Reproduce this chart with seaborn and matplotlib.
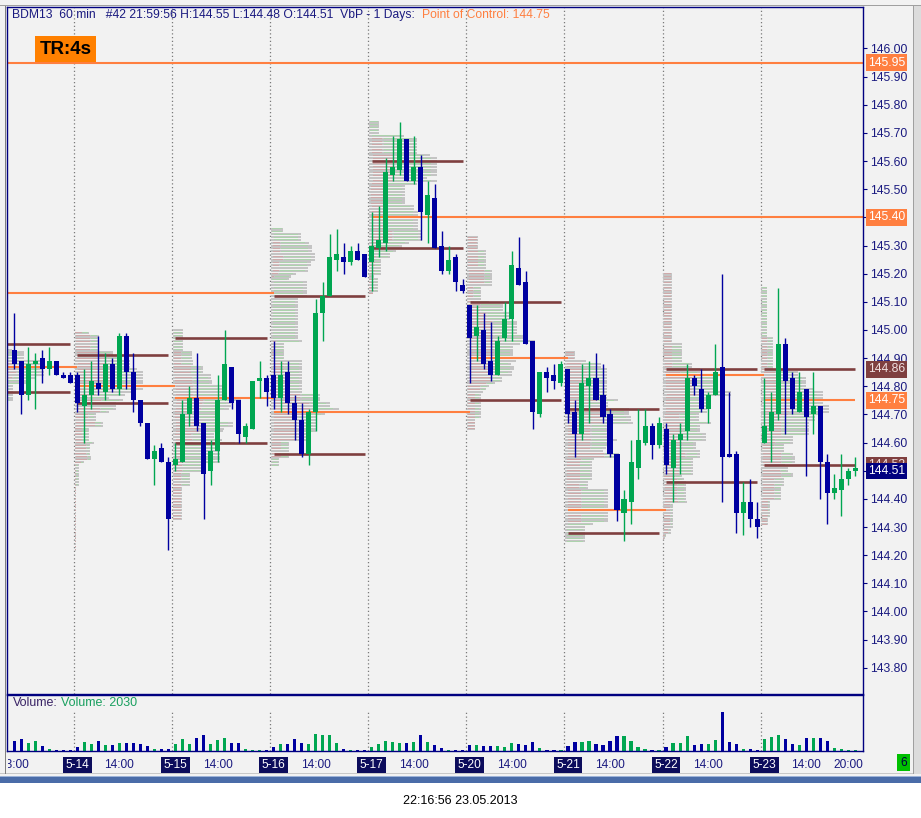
import numpy as np
import pandas as pd
import matplotlib
matplotlib.use('Agg')
import matplotlib.pyplot as plt
import seaborn as sns
from matplotlib.transforms import Bbox, blended_transform_factory
from matplotlib.patches import Rectangle

sns.set_style('white')
plt.rcParams['font.family'] = ['Liberation Sans', 'DejaVu Sans']

# ---------------- data ----------------
day_labels = ['5-13', '5-14', '5-15', '5-16', '5-17', '5-20', '5-21', '5-22', '5-23']
bars_per_day = [9, 14, 14, 14, 14, 14, 14, 14, 14]
first_hour = [13, 8, 8, 8, 8, 8, 8, 8, 8]

opens = [144.93, 144.89, 144.77, 144.88, 144.90, 144.86, 144.89, 144.84, 144.84,
         144.84, 144.73, 144.77, 144.81, 144.78, 144.88, 144.79, 144.98, 144.85, 144.75, 144.67, 144.54, 144.58, 144.53,
         144.52, 144.53, 144.70, 144.76, 144.67, 144.50, 144.57, 144.75, 144.87, 144.75, 144.62, 144.65, 144.82, 144.83,
         144.84, 144.76, 144.85, 144.74, 144.68, 144.56, 144.71, 145.06, 145.12, 145.25, 145.26, 145.24, 145.28, 145.27,
         145.24, 145.29, 145.31, 145.55, 145.57, 145.68, 145.53, 145.58, 145.41, 145.47, 145.30, 145.21, 145.26, 145.16,
         145.09, 144.98, 145.00, 144.89, 144.84, 144.97, 145.04, 145.22, 145.17, 144.96, 144.70, 144.85, 144.84, 144.81,
         144.86, 144.71, 144.63, 144.80, 144.83, 144.77, 144.70, 144.56, 144.35, 144.39, 144.51, 144.60, 144.66, 144.59,
         144.65, 144.51, 144.61, 144.64, 144.83, 144.79, 144.72, 144.77, 144.87, 144.56, 144.56, 144.35, 144.39, 144.33,
         144.60, 144.64, 144.70, 144.95, 144.83, 144.71, 144.79, 144.70, 144.73, 144.53, 144.42, 144.43, 144.47, 144.50]
highs = [145.06, 144.89, 144.94, 144.92, 144.93, 144.94, 144.89, 144.85, 144.85,
         144.85, 144.86, 144.89, 144.98, 144.92, 144.90, 144.99, 144.99, 144.92, 144.75, 144.67, 144.59, 144.60, 144.55,
         144.60, 144.75, 144.80, 144.92, 144.67, 144.61, 144.84, 145.00, 144.87, 144.75, 144.67, 144.82, 144.89, 144.84,
         144.96, 144.89, 144.89, 144.77, 144.74, 144.72, 145.11, 145.17, 145.34, 145.36, 145.31, 145.30, 145.31, 145.27,
         145.42, 145.44, 145.61, 145.69, 145.74, 145.68, 145.69, 145.62, 145.53, 145.52, 145.35, 145.30, 145.27, 145.18,
         145.09, 145.09, 145.06, 145.03, 144.98, 145.10, 145.28, 145.33, 145.21, 144.96, 144.85, 144.87, 144.88, 144.89,
         144.86, 144.75, 144.88, 144.89, 144.92, 144.88, 144.72, 144.56, 144.43, 144.61, 144.72, 144.72, 144.67, 144.69,
         144.67, 144.63, 144.67, 144.88, 144.84, 144.86, 144.78, 144.95, 145.20, 144.78, 144.57, 144.46, 144.47, 144.39,
         144.83, 144.78, 145.15, 144.97, 144.85, 144.85, 144.79, 144.85, 144.73, 144.56, 144.49, 144.56, 144.51, 144.55]
lows = [144.86, 144.70, 144.75, 144.72, 144.81, 144.84, 144.84, 144.83, 144.81,
        144.71, 144.60, 144.72, 144.77, 144.75, 144.78, 144.77, 144.79, 144.71, 144.66, 144.54, 144.45, 144.53, 144.22,
        144.50, 144.53, 144.66, 144.64, 144.33, 144.45, 144.53, 144.75, 144.72, 144.60, 144.60, 144.65, 144.76, 144.73,
        144.72, 144.71, 144.70, 144.61, 144.55, 144.52, 144.64, 144.96, 145.12, 145.21, 145.20, 145.23, 145.25, 145.19,
        145.14, 145.26, 145.28, 145.53, 145.55, 145.53, 145.52, 145.32, 145.31, 145.29, 145.20, 145.20, 145.14, 145.13,
        144.81, 144.89, 144.86, 144.82, 144.84, 144.96, 144.96, 145.16, 144.95, 144.65, 144.69, 144.78, 144.79, 144.80,
        144.67, 144.55, 144.61, 144.67, 144.75, 144.67, 144.55, 144.32, 144.25, 144.31, 144.47, 144.59, 144.54, 144.58,
        144.49, 144.39, 144.49, 144.61, 144.77, 144.71, 144.67, 144.77, 144.39, 144.55, 144.28, 144.27, 144.30, 144.26,
        144.60, 144.53, 144.68, 144.63, 144.70, 144.71, 144.48, 144.63, 144.40, 144.31, 144.40, 144.34, 144.45, 144.48]
closes = [144.88, 144.77, 144.88, 144.89, 144.86, 144.89, 144.84, 144.83, 144.81,
          144.74, 144.77, 144.82, 144.79, 144.88, 144.79, 144.98, 144.85, 144.75, 144.67, 144.54, 144.57, 144.53, 144.33,
          144.54, 144.70, 144.76, 144.66, 144.49, 144.57, 144.75, 144.88, 144.74, 144.63, 144.66, 144.82, 144.83, 144.78,
          144.76, 144.84, 144.74, 144.68, 144.56, 144.71, 145.06, 145.12, 145.26, 145.27, 145.24, 145.28, 145.25, 145.19,
          145.30, 145.32, 145.56, 145.58, 145.68, 145.53, 145.58, 145.42, 145.48, 145.29, 145.21, 145.25, 145.17, 145.14,
          144.97, 145.01, 144.88, 144.84, 144.96, 145.04, 145.23, 145.16, 144.95, 144.71, 144.85, 144.83, 144.82, 144.88,
          144.70, 144.63, 144.81, 144.83, 144.75, 144.69, 144.56, 144.36, 144.40, 144.53, 144.61, 144.66, 144.59, 144.67,
          144.52, 144.61, 144.63, 144.83, 144.80, 144.72, 144.77, 144.85, 144.55, 144.55, 144.35, 144.39, 144.33, 144.30,
          144.66, 144.71, 144.95, 144.82, 144.72, 144.78, 144.69, 144.73, 144.53, 144.42, 144.44, 144.47, 144.50, 144.51]
volumes = [20300, 24400, 16200, 20300, 10200, 4100, 2000, 2000, 2000,
           8100, 18300, 14200, 20300, 12200, 12200, 16200, 16200, 16200, 14200, 10200, 4100, 4100, 4100,
           14200, 24400, 14200, 26400, 32500, 14200, 22300, 26400, 16200, 16200, 4100, 2000, 2000, 2000,
           8100, 14200, 14200, 24400, 16200, 14200, 34500, 32500, 32500, 16200, 4100, 2000, 2000, 2000,
           8100, 14200, 20300, 18300, 16200, 16200, 18300, 32500, 18300, 12200, 6100, 2000, 2000, 2000,
           12200, 12200, 10200, 10200, 10200, 8100, 16200, 14200, 12200, 18300, 6100, 2000, 2000, 2000,
           10200, 18300, 18300, 20300, 14200, 12200, 20300, 30500, 30500, 20300, 8100, 4100, 2000, 2000,
           8100, 16200, 16200, 30500, 12200, 14200, 14200, 22300, 79200, 18300, 14200, 4100, 4100, 2000,
           24400, 28400, 32500, 24400, 14200, 12200, 26400, 26400, 26400, 20300, 6100, 4100, 2000, 2030]

# point-of-control lines (price, first bar, last bar)
poc_price = [145.95, 145.13, 144.87, 144.80, 144.76, 144.71, 145.40, 144.90, 144.36, 144.84, 144.75]
poc_from = [-2, -2, -2, 9, 23, 37, 51, 65, 79, 93, 107]
poc_to = [122, 37, 9, 23, 37, 65, 122, 79, 93, 107, 120]
# value area lines per day
va_from = [-2, 9, 23, 37, 51, 65, 79, 93, 107]
va_to = [8, 22, 36, 50, 64, 78, 92, 106, 120]
va_high = [144.95, 144.91, 144.97, 145.12, 145.60, 145.10, 144.72, 144.86, 144.86]
va_low = [144.78, 144.74, 144.60, 144.56, 145.29, 144.75, 144.28, 144.46, 144.52]

# price-axis markers (price, colour key)
marker_price = [145.95, 145.40, 144.86, 144.75, 144.52, 144.51]
marker_kind = ['poc', 'poc', 'va', 'poc', 'va', 'last']
hidden_ticks = [145.40, 144.50]

header_main = "BDM13  60 min   #42 21:59:56 H:144.55 L:144.48 O:144.51  VbP - 1 Days:"
header_poc = "Point of Control: 144.75"

# ---------------- styling ----------------
BLUE = '#0000a0'
GREEN = '#00a651'
ORANGE = '#ff7f40'
BROWN = '#7f3f3f'
NAVY = '#1a1a80'
BG = '#f2f2f2'
GREY = '#c4c4c4'
PINK = '#cfa9a9'
LGREEN = '#add3ad'

W, H = 921, 818
fig = plt.figure(figsize=(W / 100, H / 100), dpi=100, facecolor=BG)


def fx(px):
    return px / W


def fy(py):
    return 1 - py / H


ax = fig.add_axes([fx(7), fy(694), fx(863) - fx(7), fy(7) - fy(694)])
axv = fig.add_axes([fx(7), fy(751), fx(863) - fx(7), fy(695) - fy(751)])
for a in (ax, axv):
    a.set_facecolor(BG)
    for sp in a.spines.values():
        sp.set_color('#000080')
        sp.set_linewidth(1.0)

n = len(opens)
idx = np.arange(n)
o = np.array(opens); h = np.array(highs); l = np.array(lows); c = np.array(closes)
v = np.array(volumes)
up = c >= o
day_start = np.concatenate([[0], np.cumsum(bars_per_day)[:-1]])

XL = (-1.04, 121.1)

# --- volume profiles ---
PROFILE_W = 9.7
for d, (s, nb) in enumerate(zip(day_start, bars_per_day)):
    lo_t = int(round(l[s:s + nb].min() * 100))
    hi_t = int(round(h[s:s + nb].max() * 100))
    upv = np.zeros(hi_t - lo_t + 1)
    dnv = np.zeros(hi_t - lo_t + 1)
    for i in range(s, s + nb):
        a0 = int(round(l[i] * 100)) - lo_t
        a1 = int(round(h[i] * 100)) - lo_t
        share = v[i] / (a1 - a0 + 1)
        if up[i]:
            upv[a0:a1 + 1] += share
        else:
            dnv[a0:a1 + 1] += share
    tot = upv + dnv
    wdt = tot / tot.max() * PROFILE_W
    left = s - (first_hour[d] - 8) - 0.4
    yy = np.arange(lo_t, hi_t + 1) / 100
    frac = np.where(tot > 0, dnv / np.maximum(tot, 1e-9), 0)
    ax.barh(yy, wdt, left=left, height=0.0072, color=GREY, lw=0, zorder=1)
    ax.barh(yy, wdt * frac * 0.85, left=left + wdt * 0.06, height=0.0030, color=PINK, lw=0, zorder=1.1)
    ax.barh(yy, wdt * (1 - frac) * 0.8, left=left + wdt * 0.09 + wdt * frac * 0.85,
            height=0.0030, color=LGREEN, lw=0, zorder=1.1)

# --- day separators ---
for s in day_start[1:]:
    ax.axvline(s - 0.5, color='#7a7a7a', ls=(0, (1, 2)), lw=0.9, zorder=0.5)
    axv.axvline(s - 0.5, ymin=0, ymax=0.70, color='#7a7a7a', ls=(0, (1, 2)), lw=0.9, zorder=0.5)

# --- value area and POC lines ---
for a0, a1, ph, pl in zip(va_from, va_to, va_high, va_low):
    ax.hlines([ph, pl], a0, a1, color=BROWN, lw=1.9, zorder=2)
for p, a0, a1 in zip(poc_price, poc_from, poc_to):
    ax.hlines(p, a0, a1, color=ORANGE, lw=1.5, zorder=2.1)

# --- candles ---
cols = np.where(up, GREEN, BLUE)
ax.vlines(idx, l, h, colors=cols, lw=1.0, zorder=3)
body_lo = np.minimum(o, c)
body_h = np.maximum(np.abs(c - o), 0.004)
ax.bar(idx, body_h, bottom=body_lo, width=0.72, color=cols, lw=0, zorder=3.1)

ax.set_xlim(*XL)
ax.set_ylim(143.7069, 146.1474)
ax.set_xticks([])
ax.yaxis.tick_right()
yt = np.round(np.arange(143.80, 146.001, 0.10), 2)
ax.set_yticks(yt)
ax.set_yticklabels(['' if any(abs(t - hp) < 1e-6 for hp in hidden_ticks) else f"{t:.2f}" for t in yt])
ax.tick_params(axis='y', direction='out', length=3, width=0.8, color='#000080',
               labelcolor=NAVY, labelsize=8.7, pad=2)

# --- volume panel (seaborn) ---
df = pd.DataFrame({'bar': idx, 'volume': v, 'dir': np.where(up, 'up', 'down')})
sns.barplot(data=df, x='bar', y='volume', hue='dir', palette={'up': GREEN, 'down': BLUE},
            native_scale=True, dodge=False, width=0.45, errorbar=None, legend=False,
            saturation=1, linewidth=0, ax=axv)
axv.set_xlim(*XL)
axv.set_ylim(0, 113700)
axv.set_yticks([])
axv.set_xlabel('')
axv.set_ylabel('')

tick_pos, tick_lab = [], []
for d, s in enumerate(day_start):
    if d == 0:
        tick_pos.append(s); tick_lab.append(f"{first_hour[0]}:00")
    else:
        tick_pos.append(s); tick_lab.append(day_labels[d])
        tick_pos.append(s + 6); tick_lab.append("14:00")
tick_pos.append(day_start[-1] + 12); tick_lab.append("20:00")
axv.set_xticks(tick_pos)
axv.set_xticklabels(tick_lab)
axv.tick_params(axis='x', direction='out', length=3, width=0.8, color='#000080',
                labelcolor=NAVY, labelsize=8.6, pad=3)
for lab in axv.get_xticklabels():
    t = lab.get_text()
    if '-' in t:
        lab.set_color('white')
        lab.set_bbox(dict(facecolor='#0c0c5c', edgecolor='none', pad=1.8))
    lab.set_clip_box(Bbox.from_extents(7.5, 0, W, H))
    lab.set_clip_on(True)

fig.text(fx(13), fy(703), "Volume:", color='#3a2466', fontsize=9, va='center', ha='left')
fig.text(fx(61), fy(703), "Volume: 2030", color='#1aa060', fontsize=9, va='center', ha='left')

# --- price axis markers ---
trans = blended_transform_factory(fig.transFigure, ax.transData)
kind_color = {'poc': ORANGE, 'va': BROWN, 'last': '#000080'}
offs = {144.52: 0.0, 144.51: -0.012}
for p, k in zip(marker_price, marker_kind):
    yv = p + offs.get(p, 0.0)
    fig.text(fx(868), yv, f"{p:.2f}", transform=trans, color='white' if k != 'va' else '#f0e0e0',
             fontsize=8.7, va='center', ha='left', zorder=5,
             bbox=dict(facecolor=kind_color[k], edgecolor='none', pad=1.6))

# --- header and badges ---
t1 = fig.text(fx(12), fy(15), header_main, color=NAVY, fontsize=8.7, va='center', ha='left')
fig.canvas.draw()
bb = t1.get_window_extent()
fig.text((bb.x1 + 7) / W, fy(15), header_poc, color=ORANGE, fontsize=8.7, va='center', ha='left')
fig.text(fx(65.5), fy(49), "TR:4s", color='black', fontsize=13.5, fontweight='bold', va='center', ha='center',
         bbox=dict(facecolor='#ff8000', edgecolor='none', pad=3.0))

fig.text(fx(903.5), fy(762.5), "6", color='#000040', fontsize=8.6, va='center', ha='center',
         bbox=dict(facecolor='#00c000', edgecolor='none', pad=2.0))

# --- window chrome ---
fig.add_artist(Rectangle((0, 0), 1, fy(783), transform=fig.transFigure, facecolor='white', edgecolor='none', zorder=-1))
fig.add_artist(Rectangle((0, fy(783)), 1, 7 / H, transform=fig.transFigure, facecolor='#4a6ca8', edgecolor='none'))
fig.add_artist(Rectangle((0, fy(777)), 1, 1.5 / H, transform=fig.transFigure, facecolor='#9db3d8', edgecolor='none'))
fig.add_artist(Rectangle((0, fy(774)), 1, 1 / H, transform=fig.transFigure, facecolor='#c8c8c8', edgecolor='none'))
fig.add_artist(Rectangle((0, fy(6)), 1, 1 / H, transform=fig.transFigure, facecolor='#a0a0a0', edgecolor='none'))
fig.add_artist(Rectangle((fx(5), fy(774)), 1 / W, 768 / H, transform=fig.transFigure, facecolor='#808080', edgecolor='none'))
fig.add_artist(Rectangle((fx(913), fy(774)), 1 / W, 768 / H, transform=fig.transFigure, facecolor='#a0a0a0', edgecolor='none'))
fig.add_artist(Rectangle((fx(914), fy(774)), 7 / W, 768 / H, transform=fig.transFigure, facecolor='#dcdcdc', edgecolor='none'))

fig.text(0.5, fy(801), "22:16:56 23.05.2013", color='black', fontsize=9, va='center', ha='center')

fig.savefig('out.png', dpi=100, facecolor=fig.get_facecolor())
